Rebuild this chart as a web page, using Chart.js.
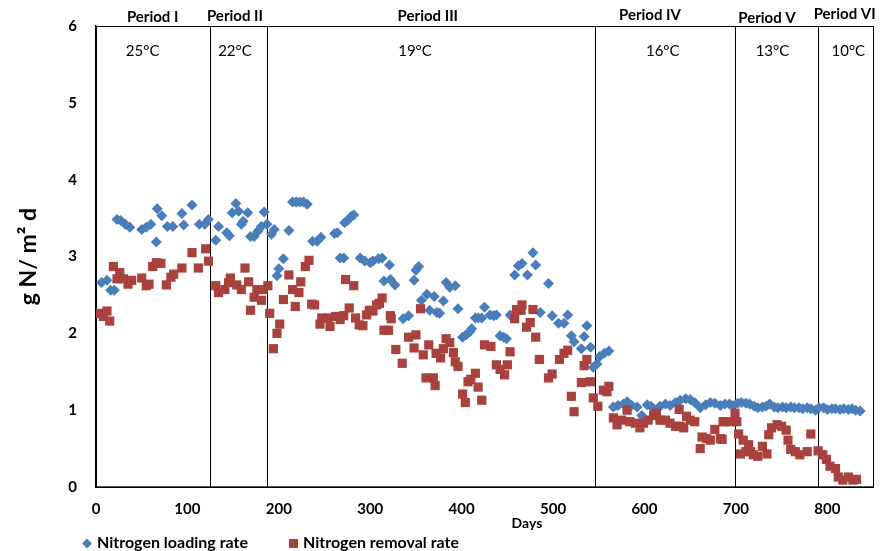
<!DOCTYPE html>
<html lang="en">

<head>
    <meta charset="UTF-8">
    <title>Nitrogen loading and removal rate</title>
    <script src="https://cdn.jsdelivr.net/npm/chart.js"></script>
    <style>
        * {
            margin: 0;
            padding: 0;
            box-sizing: border-box;
        }

        body {
            background-color: #fff;
        }

        .container {
            width: 883px;
            height: 551px;
            position: relative;
        }
    </style>
</head>

<body>
    <div class="container">
        <canvas id="n-chart"></canvas>
    </div>

    <script>
        // data (days, g N/m2 d)
        var loadingDays = [6, 12, 16, 20, 23, 27, 32, 37, 50, 55, 60, 66, 67, 72, 78, 84, 94, 96, 105, 113, 119, 123, 131, 134,
            143, 146, 149, 153, 156, 159, 161, 166, 169, 173, 177, 181, 184, 187, 192, 195, 198, 200, 205, 211, 215, 219, 223, 227, 231,
            237, 242, 246, 261, 264, 267, 271, 272, 275, 279, 282, 289, 294, 300, 303, 309, 313, 315, 321, 322, 327, 336, 342, 348,
            350, 353, 356, 362, 365, 370, 373, 376, 380, 383, 387, 393, 396, 401, 405, 409, 411, 415, 418, 422, 425, 431, 435, 438,
            442, 446, 449, 453, 458, 462, 466, 472, 478, 481, 486, 495, 499, 506, 512, 516, 520, 523, 531, 534, 537, 541, 544, 548,
            551, 556, 561, 566, 571, 577, 581, 586, 592, 597, 603, 607, 612, 617, 623, 628, 634, 639, 645, 650, 655, 661, 667, 672,
            677, 683, 688, 693, 697, 702, 706, 711, 715, 720, 724, 729, 733, 737, 742, 746, 751, 755, 760, 764, 769, 773, 778, 782,
            787, 791, 796, 800, 805, 809, 814, 818, 823, 827, 831, 836];
        var loadingRate = [2.66, 2.69, 2.56, 2.56, 3.48, 3.47, 3.42, 3.38, 3.35, 3.38, 3.42, 3.19, 3.62, 3.53, 3.39, 3.39, 3.56, 3.41, 3.67, 3.42, 3.42, 3.48, 3.21, 3.39,
            3.31, 3.27, 3.57, 3.69, 3.59, 3.42, 3.46, 3.57, 3.26, 3.26, 3.33, 3.39, 3.58, 3.42, 3.29, 3.35, 2.75, 2.84, 2.97, 3.34, 3.71, 3.71, 3.71, 3.71, 3.68,
            3.20, 3.20, 3.25, 3.30, 3.31, 2.98, 2.98, 3.44, 3.47, 3.52, 3.54, 2.98, 2.94, 2.92, 2.94, 2.97, 2.98, 2.68, 2.89, 2.70, 2.63, 2.19, 2.23, 2.69,
            2.82, 2.87, 2.43, 2.51, 2.30, 2.48, 2.27, 2.26, 2.42, 2.66, 2.60, 2.62, 2.32, 1.95, 1.98, 2.02, 2.06, 2.20, 2.20, 2.20, 2.34, 2.24, 2.23, 2.24,
            1.97, 1.95, 1.93, 2.24, 2.76, 2.88, 2.91, 2.76, 3.05, 2.89, 2.27, 2.65, 2.23, 2.13, 2.13, 2.24, 1.97, 1.89, 1.80, 1.96, 2.10, 1.82, 1.56, 1.60,
            1.70, 1.74, 1.77, 1.04, 1.06, 1.08, 1.11, 1.06, 1.04, 0.93, 1.07, 1.05, 0.99, 1.05, 1.08, 1.06, 1.10, 1.13, 1.15, 1.14, 1.10, 1.03, 1.07, 1.10,
            1.09, 1.06, 1.08, 1.08, 1.06, 1.09, 1.10, 1.09, 1.08, 1.05, 1.03, 1.04, 1.05, 1.08, 1.04, 1.03, 1.04, 1.03, 1.04, 1.03, 1.03, 1.02, 1.03, 1.02,
            1.00, 1.03, 1.03, 1.01, 1.02, 1.02, 1.01, 1.02, 1.01, 1.02, 1.00, 0.99];

        var removalDays = [4, 8, 12, 15, 19, 23, 26, 30, 35, 39, 50, 55, 58, 62, 66, 71, 77, 82, 85, 94, 105, 112, 120, 123, 131, 134,
            141, 145, 147, 154, 159, 163, 167, 169, 173, 176, 181, 183, 188, 190, 194, 198, 201, 205, 211, 215, 218, 222, 224, 229, 233,
            236, 239, 245, 247, 254, 256, 262, 267, 271, 273, 277, 282, 284, 288, 292, 296, 299, 303, 307, 310, 313, 315, 320, 322, 323,
            328, 335, 342, 348, 350, 355, 358, 361, 364, 369, 371, 372, 377, 380, 383, 387, 391, 393, 396, 401, 404, 407, 410, 415, 418,
            422, 425, 432, 438, 442, 447, 450, 453, 458, 460, 465, 466, 471, 475, 478, 481, 485, 495, 499, 507, 512, 516, 520, 523, 531,
            534, 537, 541, 544, 549, 555, 559, 561, 566, 570, 575, 581, 584, 590, 595, 599, 604, 610, 613, 617, 623, 628, 634, 638, 639,
            643, 646, 650, 655, 661, 663, 668, 672, 677, 683, 685, 686, 688, 694, 699, 701, 703, 705, 708, 711, 714, 716, 719, 724, 729,
            734, 736, 739, 745, 750, 755, 757, 760, 765, 770, 778, 782, 790, 795, 799, 803, 809, 812, 817, 823, 828, 832];
        var removalRate = [2.26, 2.22, 2.29, 2.16, 2.87, 2.71, 2.79, 2.71, 2.64, 2.69, 2.72, 2.62, 2.64, 2.87, 2.92, 2.91, 2.63, 2.73, 2.77, 2.85, 3.05, 2.85, 3.10, 2.94, 2.62, 2.53,
            2.57, 2.66, 2.72, 2.63, 2.57, 2.85, 2.67, 2.30, 2.47, 2.57, 2.43, 2.57, 2.62, 2.26, 1.80, 2.00, 2.12, 2.44, 2.76, 2.57, 2.35, 2.53, 2.67, 2.87, 2.95,
            2.38, 2.37, 2.12, 2.20, 2.20, 2.09, 2.22, 2.18, 2.23, 2.70, 2.33, 2.62, 2.20, 2.11, 2.10, 2.24, 2.30, 2.29, 2.37, 2.39, 2.46, 2.04, 2.04, 2.23, 2.19,
            1.79, 1.61, 1.95, 1.81, 1.98, 2.32, 1.72, 1.42, 1.85, 1.42, 1.32, 1.74, 1.68, 1.80, 1.93, 1.88, 1.75, 1.63, 1.57, 1.21, 1.10, 1.37, 1.40, 1.48, 1.30,
            1.13, 1.85, 1.83, 1.59, 1.53, 1.46, 1.59, 1.76, 2.19, 2.31, 2.30, 2.37, 2.08, 2.14, 2.31, 1.95, 1.66, 1.42, 1.47, 1.66, 1.74, 1.78, 1.18, 0.98, 1.36,
            1.58, 1.66, 1.37, 1.16, 1.05, 1.26, 1.24, 1.31, 0.90, 0.81, 0.87, 1.00, 0.85, 0.83, 0.77, 0.83, 0.87, 0.93, 0.96, 0.87, 0.87, 0.83, 0.79, 1.01, 0.79,
            0.77, 0.92, 0.87, 0.85, 0.50, 0.65, 0.63, 0.61, 0.75, 0.63, 0.62, 0.85, 0.85, 0.85, 0.96, 0.85, 0.69, 0.43, 0.61, 0.46, 0.55, 0.46, 0.42, 0.40, 0.53,
            0.43, 0.68, 0.77, 0.81, 0.79, 0.74, 0.61, 0.49, 0.46, 0.42, 0.46, 0.69, 0.47, 0.42, 0.36, 0.27, 0.24, 0.13, 0.09, 0.13, 0.09, 0.10];

        // periods: boundaries (days), names and temperatures
        var periodBounds = [125, 187, 546, 699, 790];
        var periodNames = ['Period I', 'Period II', 'Period III', 'Period IV', 'Period V', 'Period VI'];
        var periodTemps = ['25°C', '22°C', '19°C', '16°C', '13°C', '10°C'];
        var dayTicks = [0, 100, 200, 300, 400, 500, 600, 700, 800];

        var BLUE = '#4a7ebb';
        var RED = '#a9413e';
        var FONT = 'Lato, "Open Sans", sans-serif';

        function toPoints(xs, ys) {
            var pts = [];
            for (var i = 0; i < xs.length; i++) {
                pts.push({ x: xs[i], y: ys[i] });
            }
            return pts;
        }

        // annotation positions (in days) for the period captions
        var nameAt = [62, 152, 363, 606, 734, 819];
        var nameY = [17, 16, 16, 15, 18, 14];
        var tempAt = [51, 152, 349, 620, 740, 823];

        var periodPlugin = {
            id: 'periods',
            beforeDatasetsDraw: function (chart) {
                var ctx = chart.ctx;
                var area = chart.chartArea;
                var xs = chart.scales.x;
                ctx.save();
                ctx.strokeStyle = '#000';
                ctx.lineWidth = 1;
                ctx.strokeRect(Math.round(area.left) + 0.5, Math.round(area.top) + 0.5,
                    Math.round(area.right - area.left), Math.round(area.bottom - area.top));
                periodBounds.forEach(function (d) {
                    var px = Math.round(xs.getPixelForValue(d)) + 0.5;
                    ctx.beginPath();
                    ctx.moveTo(px, area.top);
                    ctx.lineTo(px, area.bottom);
                    ctx.stroke();
                });
                ctx.restore();
            },
            afterDraw: function (chart) {
                var ctx = chart.ctx;
                var xs = chart.scales.x;
                ctx.save();
                ctx.fillStyle = '#000';
                ctx.textAlign = 'center';
                ctx.textBaseline = 'middle';
                ctx.font = 'bold 15px ' + FONT;
                periodNames.forEach(function (n, i) {
                    ctx.fillText(n, xs.getPixelForValue(nameAt[i]), nameY[i]);
                });
                ctx.font = '15px ' + FONT;
                periodTemps.forEach(function (t, i) {
                    ctx.fillText(t, xs.getPixelForValue(tempAt[i]), 51);
                });

                ctx.font = 'bold 14px ' + FONT;
                ctx.fillText('Days', 527, 523);

                // legend
                ctx.textAlign = 'left';
                ctx.font = 'bold 16px ' + FONT;
                ctx.fillStyle = BLUE;
                ctx.beginPath();
                ctx.moveTo(87, 538.5);
                ctx.lineTo(92, 543.5);
                ctx.lineTo(87, 548.5);
                ctx.lineTo(82, 543.5);
                ctx.closePath();
                ctx.fill();
                ctx.fillStyle = '#000';
                ctx.fillText('Nitrogen loading rate', 97, 543);
                ctx.fillStyle = RED;
                ctx.fillRect(289, 539, 9, 9);
                ctx.fillStyle = '#000';
                ctx.fillText('Nitrogen removal rate', 303, 543);
                ctx.restore();
            }
        };

        var ctx = document.getElementById('n-chart').getContext('2d');
        var myChart = new Chart(ctx, {
            type: 'scatter',
            data: {
                datasets: [{
                    label: 'Nitrogen loading rate',
                    data: toPoints(loadingDays, loadingRate),
                    pointStyle: 'rectRot',
                    pointRadius: 5.5,
                    pointHoverRadius: 5.5,
                    backgroundColor: BLUE,
                    borderColor: BLUE,
                    borderWidth: 0,
                    order: 1
                }, {
                    label: 'Nitrogen removal rate',
                    data: toPoints(removalDays, removalRate),
                    pointStyle: 'rect',
                    pointRadius: 6.5,
                    pointHoverRadius: 6.5,
                    backgroundColor: RED,
                    borderColor: RED,
                    borderWidth: 0,
                    order: 0
                }]
            },
            plugins: [periodPlugin],
            options: {
                responsive: true,
                maintainAspectRatio: false,
                animation: false,
                layout: {
                    padding: { top: 26, right: 10, left: 0, bottom: 0 }
                },
                plugins: {
                    legend: { display: false },
                    tooltip: { enabled: false }
                },
                scales: {
                    x: {
                        type: 'linear',
                        min: 0,
                        max: 850,
                        afterFit: function (s) { s.height = 64; },
                        afterBuildTicks: function (s) {
                            s.ticks = dayTicks.map(function (v) { return { value: v }; });
                        },
                        grid: { display: false },
                        border: { display: true, color: '#555', width: 1.5 },
                        ticks: {
                            color: '#000',
                            padding: 5,
                            maxRotation: 0,
                            font: { family: FONT, size: 15, weight: 'bold' }
                        }
                    },
                    y: {
                        min: 0,
                        max: 6,
                        afterFit: function (s) { s.width = 96; },
                        grid: { display: false },
                        border: { display: true, color: '#000', width: 1.5 },
                        ticks: {
                            stepSize: 1,
                            color: '#000',
                            padding: 11,
                            font: { family: FONT, size: 15, weight: 'bold' }
                        },
                        title: {
                            display: true,
                            text: 'g N/ m² d',
                            color: '#000',
                            padding: { top: 15, bottom: 0 },
                            font: { family: FONT, size: 23, weight: 'bold' }
                        }
                    }
                }
            }
        });
    </script>
</body>

</html>
